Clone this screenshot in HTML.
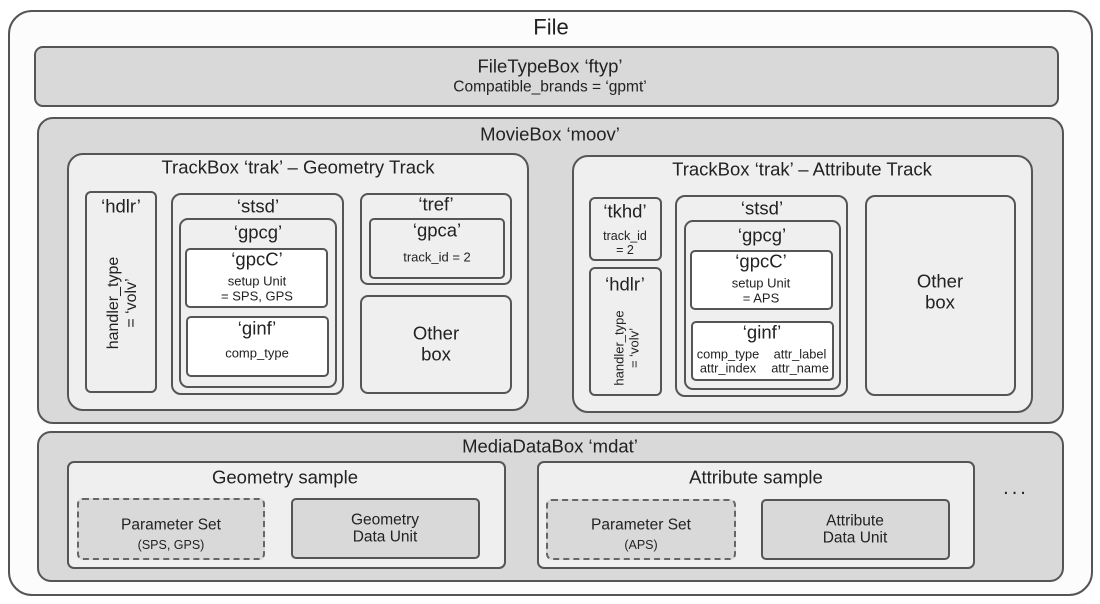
<!DOCTYPE html>
<html><head><meta charset="utf-8"><style>
body{margin:0;width:1100px;height:604px;background:#fff;position:relative;overflow:hidden;font-family:"Liberation Sans",Arial,sans-serif;color:#222}
.b{position:absolute;box-sizing:border-box;border:2px solid #555;border-radius:8px}
.t{position:absolute;text-align:center;white-space:nowrap;transform:translate(-50%,-50%);line-height:1.12}
.g{background:#d9d9d9}.l{background:#efefef}.w{background:#fff}
.d{border-style:dashed;border-color:#666}
</style></head><body>
<div class="b" style="left:8px;top:10px;width:1085px;height:586px;border-radius:24px;background:#fcfcfc"></div>
<div class="t" style="left:551px;top:28px;font-size:22px">File</div>

<div class="b g" style="left:34px;top:46px;width:1025px;height:61px;border-radius:9px"></div>
<div class="t" style="left:550px;top:67px;font-size:18.5px">FileTypeBox ‘ftyp’</div>
<div class="t" style="left:550px;top:87px;font-size:15.5px">Compatible_brands = ‘gpmt’</div>

<div class="b g" style="left:37px;top:117px;width:1027px;height:307px;border-radius:16px"></div>
<div class="t" style="left:550px;top:135px;font-size:18.5px">MovieBox ‘moov’</div>

<!-- Geometry trak -->
<div class="b l" style="left:67px;top:153px;width:462px;height:258px;border-radius:16px"></div>
<div class="t" style="left:298px;top:168px;font-size:18.5px">TrackBox ‘trak’ – Geometry Track</div>
<div class="b l" style="left:85px;top:191px;width:72px;height:202px;border-radius:6px"></div>
<div class="t" style="left:121px;top:207px;font-size:18.5px">‘hdlr’</div>
<div class="t" style="left:123px;top:303px;font-size:16px;transform:translate(-50%,-50%) rotate(-90deg)">handler_type<br>= ‘volv’</div>
<div class="b l" style="left:171px;top:193px;width:173px;height:202px;border-radius:10px"></div>
<div class="t" style="left:258px;top:207px;font-size:18.5px">‘stsd’</div>
<div class="b l" style="left:179px;top:218px;width:158px;height:170px;border-radius:9px"></div>
<div class="t" style="left:258px;top:233px;font-size:18.5px">‘gpcg’</div>
<div class="b w" style="left:185px;top:248px;width:143px;height:60px;border-radius:5px"></div>
<div class="t" style="left:257px;top:260px;font-size:18.5px">‘gpcC’</div>
<div class="t" style="left:257px;top:289px;font-size:13px">setup Unit<br>= SPS, GPS</div>
<div class="b w" style="left:186px;top:316px;width:143px;height:61px;border-radius:5px"></div>
<div class="t" style="left:257px;top:329px;font-size:18.5px">‘ginf’</div>
<div class="t" style="left:257px;top:354px;font-size:13px">comp_type</div>
<div class="b l" style="left:360px;top:193px;width:152px;height:92px;border-radius:8px"></div>
<div class="t" style="left:436px;top:205px;font-size:18.5px">‘tref’</div>
<div class="b l" style="left:369px;top:218px;width:136px;height:61px;border-radius:5px"></div>
<div class="t" style="left:437px;top:231px;font-size:18.5px">‘gpca’</div>
<div class="t" style="left:437px;top:258px;font-size:13px">track_id = 2</div>
<div class="b l" style="left:360px;top:295px;width:152px;height:99px;border-radius:8px"></div>
<div class="t" style="left:436px;top:344px;font-size:18.5px">Other<br>box</div>

<!-- Attribute trak -->
<div class="b l" style="left:572px;top:155px;width:461px;height:258px;border-radius:16px"></div>
<div class="t" style="left:802px;top:170px;font-size:18.5px">TrackBox ‘trak’ – Attribute Track</div>
<div class="b l" style="left:589px;top:197px;width:73px;height:64px;border-radius:6px"></div>
<div class="t" style="left:625px;top:212px;font-size:18.5px">‘tkhd’</div>
<div class="t" style="left:625px;top:243px;font-size:12.5px">track_id<br>= 2</div>
<div class="b l" style="left:589px;top:267px;width:73px;height:129px;border-radius:6px"></div>
<div class="t" style="left:625px;top:285px;font-size:18.5px">‘hdlr’</div>
<div class="t" style="left:627px;top:348px;font-size:13px;transform:translate(-50%,-50%) rotate(-90deg)">handler_type<br>= ‘volv’</div>
<div class="b l" style="left:675px;top:195px;width:173px;height:202px;border-radius:10px"></div>
<div class="t" style="left:762px;top:209px;font-size:18.5px">‘stsd’</div>
<div class="b l" style="left:684px;top:220px;width:157px;height:170px;border-radius:9px"></div>
<div class="t" style="left:762px;top:236px;font-size:18.5px">‘gpcg’</div>
<div class="b w" style="left:690px;top:250px;width:143px;height:60px;border-radius:5px"></div>
<div class="t" style="left:761px;top:262px;font-size:18.5px">‘gpcC’</div>
<div class="t" style="left:761px;top:291px;font-size:13px">setup Unit<br>= APS</div>
<div class="b w" style="left:691px;top:321px;width:143px;height:60px;border-radius:5px"></div>
<div class="t" style="left:762px;top:333px;font-size:18.5px">‘ginf’</div>
<div class="t" style="left:728px;top:362px;font-size:12.8px">comp_type<br>attr_index</div>
<div class="t" style="left:800px;top:362px;font-size:12.8px">attr_label<br>attr_name</div>
<div class="b l" style="left:865px;top:195px;width:151px;height:201px;border-radius:10px"></div>
<div class="t" style="left:940px;top:292px;font-size:18.5px">Other<br>box</div>

<!-- mdat -->
<div class="b g" style="left:37px;top:431px;width:1027px;height:151px;border-radius:14px"></div>
<div class="t" style="left:550px;top:447px;font-size:18.5px">MediaDataBox ‘mdat’</div>
<div class="b l" style="left:67px;top:461px;width:439px;height:108px;border-radius:7px"></div>
<div class="t" style="left:285px;top:478px;font-size:18.5px">Geometry sample</div>
<div class="b g d" style="left:77px;top:498px;width:188px;height:62px;border-radius:6px"></div>
<div class="t" style="left:171px;top:525px;font-size:15.5px">Parameter Set</div>
<div class="t" style="left:171px;top:545px;font-size:12.5px">(SPS, GPS)</div>
<div class="b g" style="left:291px;top:498px;width:189px;height:61px;border-radius:5px"></div>
<div class="t" style="left:385px;top:529px;font-size:15.5px">Geometry<br>Data Unit</div>
<div class="b l" style="left:537px;top:461px;width:438px;height:108px;border-radius:7px"></div>
<div class="t" style="left:756px;top:478px;font-size:18.5px">Attribute sample</div>
<div class="b g d" style="left:546px;top:499px;width:190px;height:61px;border-radius:6px"></div>
<div class="t" style="left:641px;top:525px;font-size:15.5px">Parameter Set</div>
<div class="t" style="left:641px;top:545px;font-size:12.5px">(APS)</div>
<div class="b g" style="left:761px;top:499px;width:189px;height:61px;border-radius:5px"></div>
<div class="t" style="left:855px;top:530px;font-size:15.5px">Attribute<br>Data Unit</div>
<div class="t" style="left:1016px;top:488px;font-size:20px;letter-spacing:3px">...</div>
</body></html>
